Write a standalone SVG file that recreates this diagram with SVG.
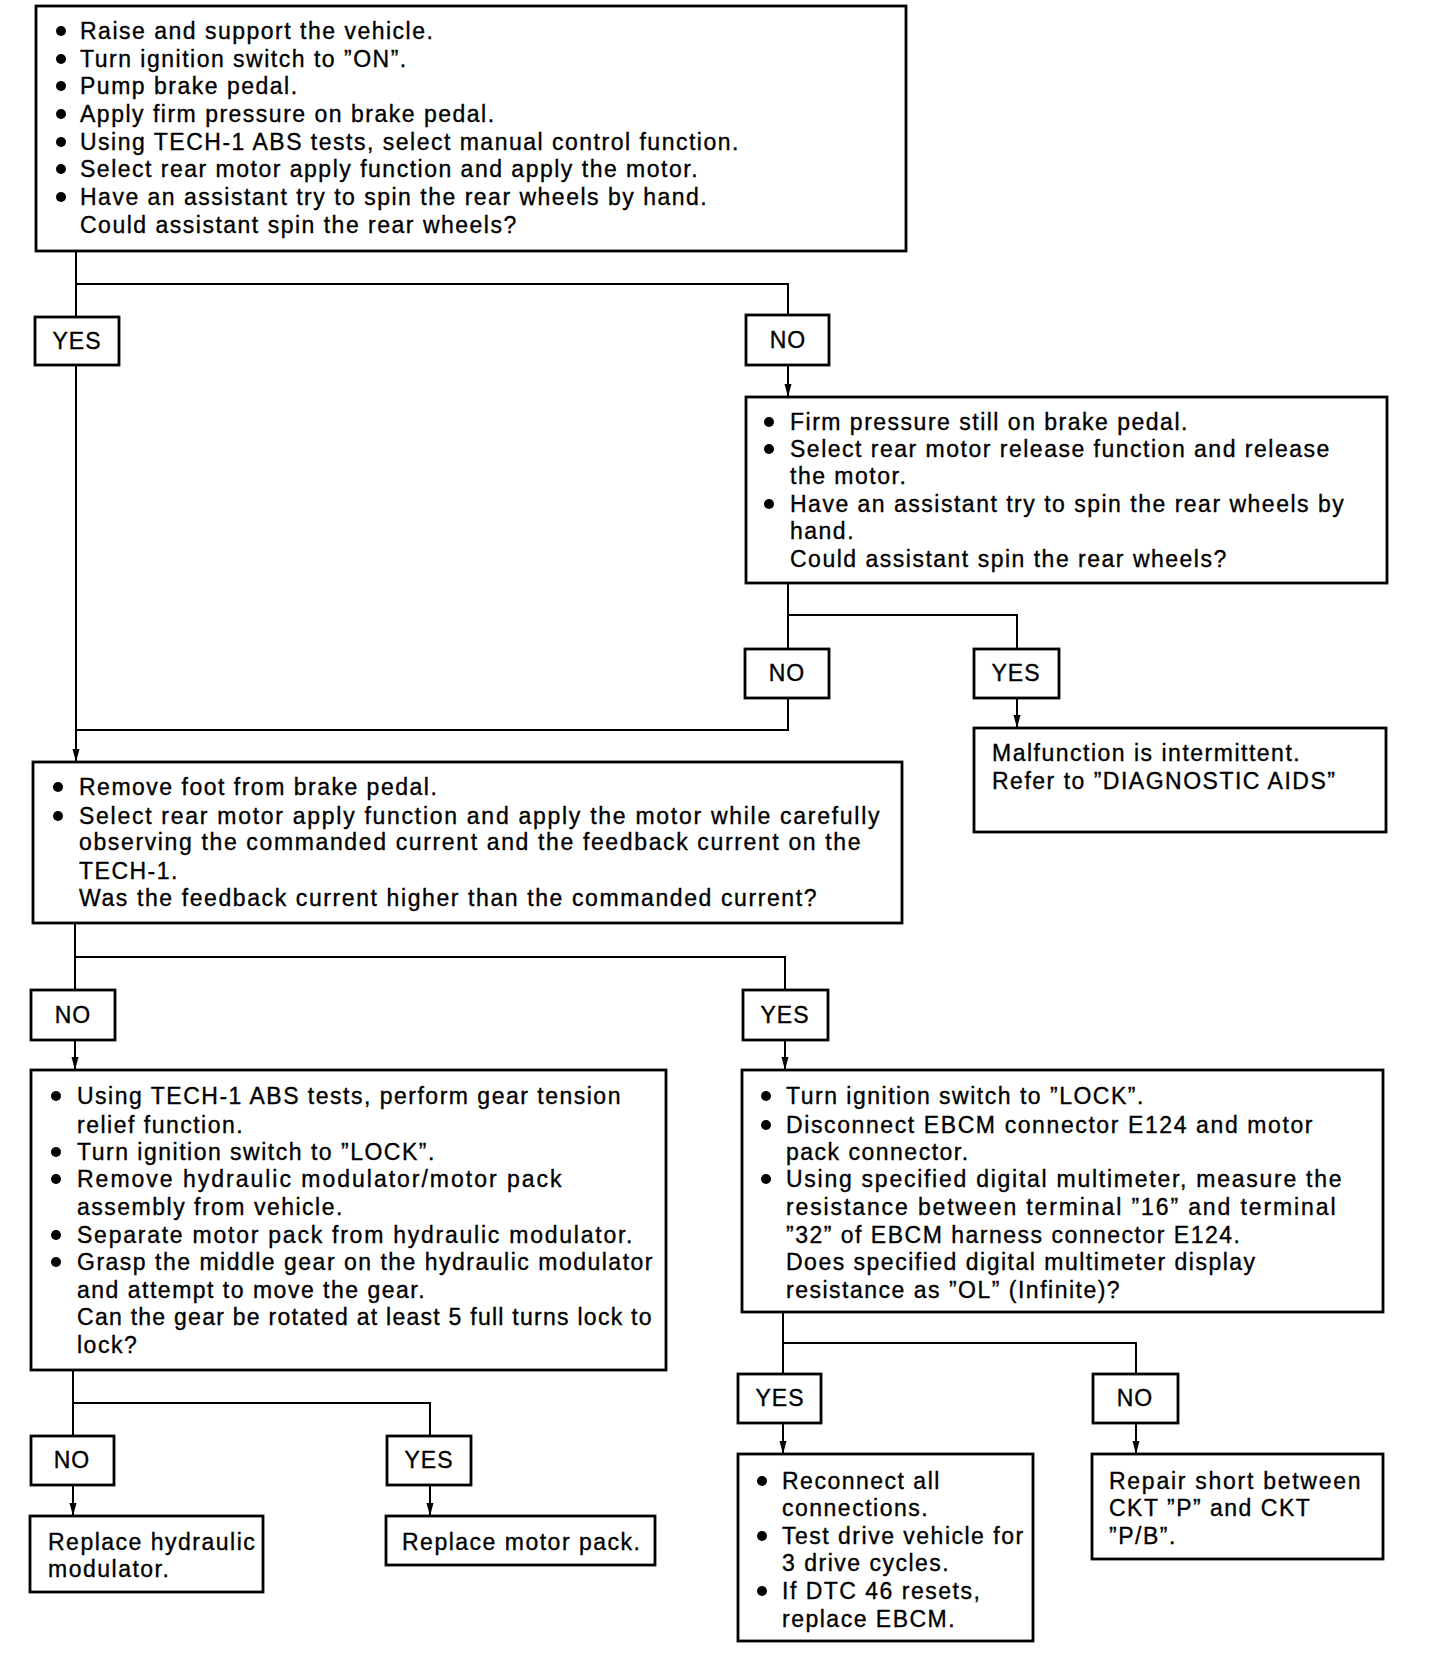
<svg xmlns="http://www.w3.org/2000/svg" width="1440" height="1674" viewBox="0 0 1440 1674">
<style>
.bg{fill:#fff}
.box{fill:#fff;stroke:#000;stroke-width:2.8}
.c{fill:none;stroke:#000;stroke-width:2}
.t{font-family:"Liberation Sans",Arial,sans-serif;font-size:23px;letter-spacing:1.5px;fill:#000;stroke:#000;stroke-width:0.35}
.lb{font-family:"Liberation Sans",Arial,sans-serif;font-size:23px;letter-spacing:1px;fill:#000;stroke:#000;stroke-width:0.35;text-anchor:middle}
.b{fill:#000}
</style>
<defs>
<marker id="ar" viewBox="0 -4 14 8" markerWidth="14" markerHeight="8" refX="13" refY="0" orient="auto" markerUnits="userSpaceOnUse">
<path d="M0,-3.5 L13,0 L0,3.5 z" fill="#000"/>
</marker>
</defs>
<rect class="bg" x="0" y="0" width="1440" height="1674"/>
<g id="connectors">
<path class="c" d="M76,251 V762" marker-end="url(#ar)"/>
<path class="c" d="M76,284 H788 V315"/>
<path class="c" d="M788,365 V397" marker-end="url(#ar)"/>
<path class="c" d="M788,583 V649"/>
<path class="c" d="M788,615 H1017 V649"/>
<path class="c" d="M788,698 V730 H76"/>
<path class="c" d="M1017,698 V728" marker-end="url(#ar)"/>
<path class="c" d="M75,923 V1070" marker-end="url(#ar)"/>
<path class="c" d="M75,957 H785 V990"/>
<path class="c" d="M785,1040 V1070" marker-end="url(#ar)"/>
<path class="c" d="M73,1370 V1516" marker-end="url(#ar)"/>
<path class="c" d="M73,1403 H430 V1436"/>
<path class="c" d="M430,1485 V1516" marker-end="url(#ar)"/>
<path class="c" d="M783,1312 V1454" marker-end="url(#ar)"/>
<path class="c" d="M783,1343 H1136 V1374"/>
<path class="c" d="M1136,1423 V1454" marker-end="url(#ar)"/>
</g>
<g id="n1">
<rect class="box" x="36" y="6" width="870" height="245"/>
<circle class="b" cx="61" cy="31" r="5"/><text class="t" x="80" y="39">Raise and support the vehicle.</text>
<circle class="b" cx="61" cy="59" r="5"/><text class="t" x="80" y="67">Turn ignition switch to ”ON”.</text>
<circle class="b" cx="61" cy="86" r="5"/><text class="t" x="80" y="94">Pump brake pedal.</text>
<circle class="b" cx="61" cy="114" r="5"/><text class="t" x="80" y="122">Apply firm pressure on brake pedal.</text>
<circle class="b" cx="61" cy="142" r="5"/><text class="t" x="80" y="150">Using TECH-1 ABS tests, select manual control function.</text>
<circle class="b" cx="61" cy="169" r="5"/><text class="t" x="80" y="177">Select rear motor apply function and apply the motor.</text>
<circle class="b" cx="61" cy="197" r="5"/><text class="t" x="80" y="205">Have an assistant try to spin the rear wheels by hand.</text>
<text class="t" x="80" y="233">Could assistant spin the rear wheels?</text>
</g>
<g id="yes1"><rect class="box" x="35" y="317" width="84" height="48"/><text class="lb" x="77" y="349">YES</text></g>
<g id="no1"><rect class="box" x="746" y="315" width="83" height="50"/><text class="lb" x="788" y="348">NO</text></g>
<g id="n2">
<rect class="box" x="746" y="397" width="641" height="186"/>
<circle class="b" cx="769" cy="422" r="5"/><text class="t" x="790" y="430">Firm pressure still on brake pedal.</text>
<circle class="b" cx="769" cy="449" r="5"/><text class="t" x="790" y="457">Select rear motor release function and release</text>
<text class="t" x="790" y="484">the motor.</text>
<circle class="b" cx="769" cy="504" r="5"/><text class="t" x="790" y="512">Have an assistant try to spin the rear wheels by</text>
<text class="t" x="790" y="539">hand.</text>
<text class="t" x="790" y="567">Could assistant spin the rear wheels?</text>
</g>
<g id="no2"><rect class="box" x="745" y="649" width="84" height="49"/><text class="lb" x="787" y="681">NO</text></g>
<g id="yes2"><rect class="box" x="974" y="649" width="85" height="49"/><text class="lb" x="1016" y="681">YES</text></g>
<g id="n_malf">
<rect class="box" x="974" y="728" width="412" height="104"/>
<text class="t" x="992" y="761">Malfunction is intermittent.</text>
<text class="t" x="992" y="789">Refer to ”DIAGNOSTIC AIDS”</text>
</g>
<g id="n3">
<rect class="box" x="33" y="762" width="869" height="161"/>
<circle class="b" cx="58" cy="787" r="5"/><text class="t" x="79" y="795">Remove foot from brake pedal.</text>
<circle class="b" cx="58" cy="816" r="5"/><text class="t" x="79" y="824" textLength="802">Select rear motor apply function and apply the motor while carefully</text>
<text class="t" x="79" y="850" textLength="783">observing the commanded current and the feedback current on the</text>
<text class="t" x="79" y="879">TECH-1.</text>
<text class="t" x="79" y="906" textLength="739">Was the feedback current higher than the commanded current?</text>
</g>
<g id="no3"><rect class="box" x="31" y="990" width="84" height="50"/><text class="lb" x="73" y="1023">NO</text></g>
<g id="yes3"><rect class="box" x="743" y="990" width="85" height="50"/><text class="lb" x="785" y="1023">YES</text></g>
<g id="n4">
<rect class="box" x="31" y="1070" width="635" height="300"/>
<circle class="b" cx="56" cy="1096" r="5"/><text class="t" x="77" y="1104">Using TECH-1 ABS tests, perform gear tension</text>
<text class="t" x="77" y="1133">relief function.</text>
<circle class="b" cx="56" cy="1152" r="5"/><text class="t" x="77" y="1160">Turn ignition switch to ”LOCK”.</text>
<circle class="b" cx="56" cy="1179" r="5"/><text class="t" x="77" y="1187" textLength="486">Remove hydraulic modulator/motor pack</text>
<text class="t" x="77" y="1215">assembly from vehicle.</text>
<circle class="b" cx="56" cy="1235" r="5"/><text class="t" x="77" y="1243" textLength="557">Separate motor pack from hydraulic modulator.</text>
<circle class="b" cx="56" cy="1262" r="5"/><text class="t" x="77" y="1270">Grasp the middle gear on the hydraulic modulator</text>
<text class="t" x="77" y="1298">and attempt to move the gear.</text>
<text class="t" x="77" y="1325" textLength="576">Can the gear be rotated at least 5 full turns lock to</text>
<text class="t" x="77" y="1353">lock?</text>
</g>
<g id="n5">
<rect class="box" x="742" y="1070" width="641" height="242"/>
<circle class="b" cx="766" cy="1096" r="5"/><text class="t" x="786" y="1104">Turn ignition switch to ”LOCK”.</text>
<circle class="b" cx="766" cy="1125" r="5"/><text class="t" x="786" y="1133" textLength="528">Disconnect EBCM connector E124 and motor</text>
<text class="t" x="786" y="1160">pack connector.</text>
<circle class="b" cx="766" cy="1179" r="5"/><text class="t" x="786" y="1187" textLength="557">Using specified digital multimeter, measure the</text>
<text class="t" x="786" y="1215" textLength="551">resistance between terminal ”16” and terminal</text>
<text class="t" x="786" y="1243">”32” of EBCM harness connector E124.</text>
<text class="t" x="786" y="1270">Does specified digital multimeter display</text>
<text class="t" x="786" y="1298">resistance as ”OL” (Infinite)?</text>
</g>
<g id="no4"><rect class="box" x="31" y="1436" width="83" height="49"/><text class="lb" x="72" y="1468">NO</text></g>
<g id="yes4"><rect class="box" x="387" y="1436" width="84" height="49"/><text class="lb" x="429" y="1468">YES</text></g>
<g id="n_rh">
<rect class="box" x="30" y="1516" width="233" height="76"/>
<text class="t" x="48" y="1550">Replace hydraulic</text>
<text class="t" x="48" y="1577">modulator.</text>
</g>
<g id="n_rm">
<rect class="box" x="386" y="1516" width="269" height="49"/>
<text class="t" x="402" y="1550">Replace motor pack.</text>
</g>
<g id="yes5"><rect class="box" x="738" y="1374" width="83" height="49"/><text class="lb" x="780" y="1406">YES</text></g>
<g id="no5"><rect class="box" x="1093" y="1374" width="85" height="49"/><text class="lb" x="1135" y="1406">NO</text></g>
<g id="n_rc">
<rect class="box" x="738" y="1454" width="295" height="187"/>
<circle class="b" cx="762" cy="1481" r="5"/><text class="t" x="782" y="1489">Reconnect all</text>
<text class="t" x="782" y="1516">connections.</text>
<circle class="b" cx="762" cy="1536" r="5"/><text class="t" x="782" y="1544">Test drive vehicle for</text>
<text class="t" x="782" y="1571">3 drive cycles.</text>
<circle class="b" cx="762" cy="1591" r="5"/><text class="t" x="782" y="1599">If DTC 46 resets,</text>
<text class="t" x="782" y="1627">replace EBCM.</text>
</g>
<g id="n_rp">
<rect class="box" x="1092" y="1454" width="291" height="105"/>
<text class="t" x="1109" y="1489" textLength="253">Repair short between</text>
<text class="t" x="1109" y="1516">CKT ”P” and CKT</text>
<text class="t" x="1109" y="1544">”P/B”.</text>
</g>
</svg>
